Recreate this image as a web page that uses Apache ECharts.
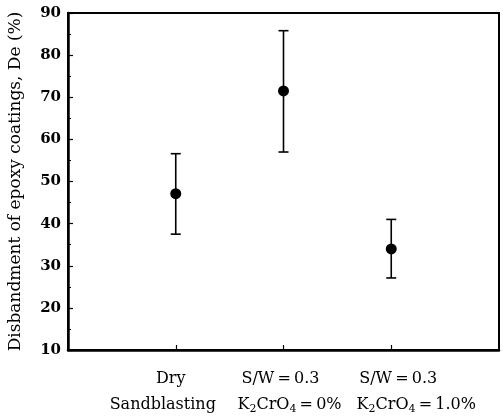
<!DOCTYPE html>
<html>
<head>
<meta charset="utf-8">
<script src="https://cdn.jsdelivr.net/npm/echarts@6/dist/echarts.min.js"></script>
<style>html,body{margin:0;padding:0;background:#fff}#c{width:503px;height:418px}</style>
</head>
<body>
<div id="c"></div>
<script>
var categoryLine1 = ['Dry', 'S/W\u2009=\u20090.3', 'S/W\u2009=\u20090.3'];
var categoryLine2 = ['Sandblasting', 'K{s|2}CrO{s|4}\u2009=\u20090%', 'K{s|2}CrO{s|4}\u2009=\u20091.0%'];
var categoryPos = [1, 2, 3];
var meanValues = [47.1, 71.5, 34.0];
var upperValues = [56.6, 85.8, 41.0];
var lowerValues = [37.5, 57.0, 27.1];
var yTicks = [10, 20, 30, 40, 50, 60, 70, 80, 90];

var chart = echarts.init(document.getElementById('c'), null, {renderer: 'canvas'});
var font = '"DejaVu Serif", "Liberation Serif", serif';
var errData = categoryPos.map(function (p, i) { return [p, lowerValues[i], upperValues[i], i]; });
var dotData = categoryPos.map(function (p, i) { return [p, meanValues[i]]; });

// horizontal nudges (px) of each category label line relative to its tick, as printed in the original
var lineShift = [[-5, -13], [-3, 6], [7, 25]];
var yMin = 10;

chart.setOption({
  animation: false,
  backgroundColor: '#fff',
  grid: {left: 68, right: 4, top: 13, bottom: 68, show: true, borderColor: '#000', borderWidth: 2,
    containLabel: false, outerBoundsMode: 'none'},
  xAxis: {
    type: 'value', min: 0, max: 4, interval: 1,
    splitLine: {show: false},
    axisLine: {show: true, lineStyle: {color: '#000', width: 2.5}},
    axisTick: {show: true, inside: true, length: 5, customValues: categoryPos, lineStyle: {color: '#000', width: 1.2}},
    axisLabel: {show: false}
  },
  yAxis: {
    type: 'value', min: yMin, max: 90, interval: 10,
    name: 'Disbandment of epoxy coatings, De (%)',
    nameLocation: 'middle', nameGap: 44, nameRotate: 90,
    nameTextStyle: {fontFamily: font, fontSize: 17, color: '#000'},
    splitLine: {show: false},
    axisLine: {show: true, lineStyle: {color: '#000', width: 2.5}},
    axisTick: {show: true, inside: true, length: 5, lineStyle: {color: '#000', width: 1.2}},
    minorTick: {show: true, splitNumber: 2, length: 3, lineStyle: {color: '#000', width: 1}},
    axisLabel: {show: true, margin: 7, color: '#000', fontFamily: font, fontSize: 15, fontWeight: 'bold',
      formatter: function (v) { return yTicks.indexOf(v) >= 0 ? String(v) : ''; }}
  },
  series: [
    {
      type: 'custom',
      data: errData,
      clip: false,
      renderItem: function (params, api) {
        var x = api.value(0);
        var i = api.value(3);
        var lo = api.coord([x, api.value(1)]);
        var hi = api.coord([x, api.value(2)]);
        var base = api.coord([x, yMin]);
        var cap = 5;
        var st = {stroke: '#000', lineWidth: 1.6};
        var ts = {fontFamily: font, fontSize: 16, lineHeight: 20, fill: '#000', align: 'center', verticalAlign: 'middle',
          rich: {s: {fontFamily: font, fontSize: 11, lineHeight: 20, fill: '#000', verticalAlign: 'bottom'}}};
        return {
          type: 'group',
          children: [
            {type: 'line', shape: {x1: lo[0], y1: lo[1], x2: hi[0], y2: hi[1]}, style: st},
            {type: 'line', shape: {x1: lo[0] - cap, y1: lo[1], x2: lo[0] + cap, y2: lo[1]}, style: st},
            {type: 'line', shape: {x1: hi[0] - cap, y1: hi[1], x2: hi[0] + cap, y2: hi[1]}, style: st},
            {type: 'text', x: base[0] + lineShift[i][0], y: base[1] + 29,
              style: Object.assign({text: categoryLine1[i]}, ts)},
            {type: 'text', x: base[0] + lineShift[i][1], y: base[1] + 55,
              style: Object.assign({text: categoryLine2[i]}, ts)}
          ]
        };
      },
      z: 2
    },
    {
      type: 'scatter',
      data: dotData,
      symbol: 'circle', symbolSize: 11,
      itemStyle: {color: '#000', opacity: 1},
      z: 3
    }
  ]
});
</script>
</body>
</html>
